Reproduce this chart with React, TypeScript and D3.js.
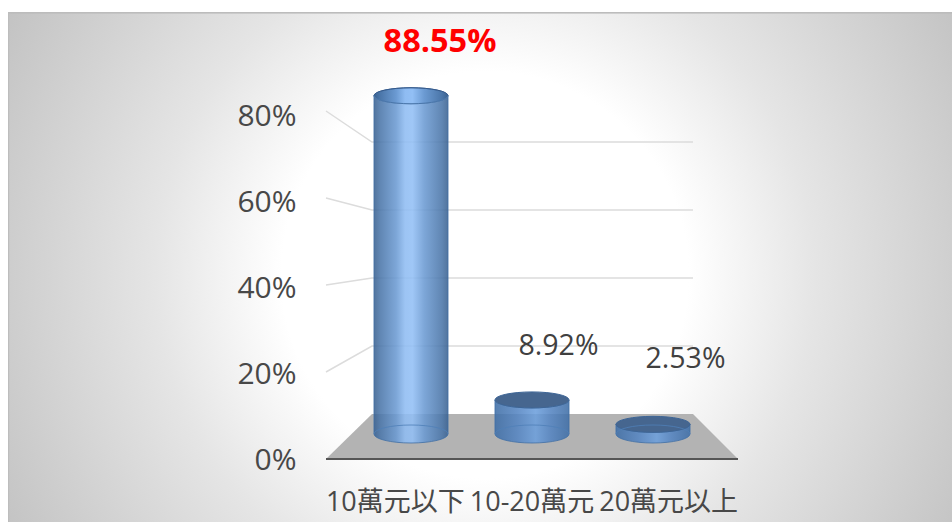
import React from "react";
import * as d3 from "d3";

const categories = ["10萬元以下", "10-20萬元", "20萬元以上"];
const values = [88.55, 8.92, 2.53];
const valueLabels = ["88.55%", "8.92%", "2.53%"];
const ticks = [0, 20, 40, 60, 80];

const W = 952, H = 522;
const font = "'Open Sans','Noto Sans CJK TC',sans-serif";

const frontY = d3.scaleLinear().domain([0, 80]).range([459, 111]);
const backY = d3.scaleLinear().domain([0, 80]).range([414, 142]);
const labelY = d3.scaleLinear().domain([0, 80]).range([470, 125.5]);
const midY = d3.scaleLinear().domain([0, 100]).range([434, 52]);
const x = d3.scaleBand<string>().domain(categories).range([350.5, 713.5]).paddingInner(0.388).paddingOuter(0.194);
const xLabel = d3.scaleBand<string>().domain(categories).range([327, 737]);
const RY_BASE = 9;
const RY_TOP = 8;

const labelPos = [
  { x: 440, y: 52, size: 32.5, color: "#ff0000", weight: 700 },
  { x: 558.5, y: 355, size: 28.5, color: "#404040", weight: 400 },
  { x: 685.5, y: 368, size: 28.5, color: "#404040", weight: 400 },
];

export default function App() {
  const floor = `M${326},${frontY(0)}L${372},${backY(0)}L${693},${backY(0)}L${738},${frontY(0)}Z`;
  return (
    <svg width={W} height={H} style={{ position: "absolute", left: 0, top: 0, display: "block" }}>
      <defs>
        <radialGradient id="bg" gradientUnits="userSpaceOnUse" cx={485} cy={275} r={550}>
          <stop offset="0" stopColor="#ffffff" />
          <stop offset="0.37" stopColor="#ffffff" />
          <stop offset="0.6" stopColor="#e5e5e5" />
          <stop offset="0.85" stopColor="#cfcfcf" />
          <stop offset="1" stopColor="#c2c2c2" />
        </radialGradient>
        <linearGradient id="body" x1="0" x2="1" y1="0" y2="0">
          <stop offset="0" stopColor="#3a6190" />
          <stop offset="0.08" stopColor="#4a75a8" />
          <stop offset="0.3" stopColor="#6b9ad2" />
          <stop offset="0.42" stopColor="#8fbcf2" />
          <stop offset="0.52" stopColor="#92bff5" />
          <stop offset="0.68" stopColor="#6b9ad2" />
          <stop offset="0.92" stopColor="#4a75a8" />
          <stop offset="1" stopColor="#3a6190" />
        </linearGradient>
        <linearGradient id="bodyLow" x1="0" x2="1" y1="0" y2="0">
          <stop offset="0" stopColor="#3f6ea6" />
          <stop offset="0.3" stopColor="#5585c2" />
          <stop offset="0.55" stopColor="#6c9fdc" />
          <stop offset="0.75" stopColor="#5585c2" />
          <stop offset="1" stopColor="#3f6ea6" />
        </linearGradient>
      </defs>
      <rect x={8} y={12} width={W - 8} height={H - 12} fill="url(#bg)" />
      <rect x={8} y={12} width={W - 8} height={1.6} fill="#bcbcbc" />
      <rect x={8} y={12} width={1.2} height={H - 12} fill="#bdbdbd" />

      <path d={floor} fill="#b3b3b3" />
      <line x1={326} x2={738} y1={frontY(0)} y2={frontY(0)} stroke="#555555" strokeWidth={2} />

      {ticks.filter((t) => t > 0).map((t) => (
        <path key={t} d={`M326,${frontY(t)}L372,${backY(t)}L693,${backY(t)}`} fill="none" stroke="#dcdcdc" strokeWidth={1.5} />
      ))}
      {ticks.map((t) => (
        <text key={t} x={296.5} y={labelY(t)} textAnchor="end" fontFamily={font} fontSize={30} fill="#484848">
          {t}%
        </text>
      ))}

      {categories.map((c, i) => {
        const cx = x(c)! + x.bandwidth() / 2;
        const rx = x.bandwidth() / 2;
        const yBase = midY(0);
        const yTop = midY(values[i]);
        const tall = values[i] > 50;
        const body = `M${cx - rx},${yTop}L${cx - rx},${yBase}A${rx},${RY_BASE} 0 0 0 ${cx + rx},${yBase}L${cx + rx},${yTop}A${rx},${RY_TOP} 0 0 1 ${cx - rx},${yTop}Z`;
        return (
          <g key={c}>
            <path d={body} fill={tall ? "url(#body)" : "url(#bodyLow)"} fillOpacity={0.88} stroke="#3f6ea6" strokeWidth={0.8} />
            <ellipse cx={cx} cy={yTop} rx={rx} ry={RY_TOP} fill={tall ? "url(#body)" : "#46668f"} stroke={tall ? "#4a76aa" : "#3d6596"} strokeWidth={1} />
            {tall && <path d={`M${cx - rx},${yTop}A${rx},${RY_TOP} 0 0 1 ${cx + rx},${yTop}`} fill="none" stroke="#35598a" strokeWidth={1} />}
            <path d={`M${cx - rx},${yBase}A${rx},${RY_BASE} 0 0 1 ${cx + rx},${yBase}`} fill="none" stroke="#4f7fb8" strokeWidth={1} opacity={0.8} />
          </g>
        );
      })}

      {categories.map((c) => (
        <text key={c} x={xLabel(c)! + xLabel.bandwidth() / 2} y={511} textAnchor="middle" fontFamily={font} fontSize={27} fill="#484848">
          {c}
        </text>
      ))}

      {valueLabels.map((l, i) => (
        <text key={l} x={labelPos[i].x} y={labelPos[i].y} textAnchor="middle" fontFamily={font}
          fontSize={labelPos[i].size} fontWeight={labelPos[i].weight} fill={labelPos[i].color}>
          {l}
        </text>
      ))}
    </svg>
  );
}
